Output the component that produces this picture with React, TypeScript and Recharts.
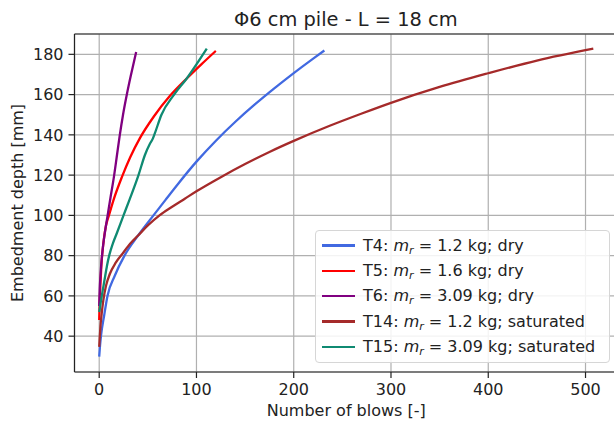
import { LineChart, Line, XAxis, YAxis, CartesianGrid, Legend, ReferenceLine } from 'recharts';

// blows / depth, one pair of arrays per test
const t4Blows = [0, 0.8, 1.8, 5, 8.5, 16, 26, 40, 55.8, 68, 80, 100, 120, 140, 160, 180, 200, 220, 231.5];
const t4Depth = [29.8, 35, 40, 50, 60, 70, 80, 90, 100, 107.6, 115, 126.7, 137.1, 146.5, 155.1, 163.1, 170.7, 177.9, 181.9];

const t5Blows = [0, 0.4, 1.2, 2.2, 3.4, 5, 7, 10, 14.7, 23.3, 32, 42, 56, 73, 90, 105, 119.9];
const t5Depth = [48, 55, 65, 75, 82, 89, 95, 100, 107.6, 119, 129, 138.5, 149, 159.5, 168, 175, 181.7];

const t6Blows = [0, 0.5, 1.3, 2.5, 4, 6, 8.5, 11.5, 15.4, 18, 20.9, 24.5, 28.4, 33, 38];
const t6Depth = [55, 63, 70, 78, 85, 92, 99.5, 108.5, 120, 129, 139, 150, 160, 170.5, 181.2];

const t14Blows = [0, 0.5, 1.3, 2.5, 4.3, 7, 11, 17, 24, 32, 40, 50, 62, 75, 88, 100, 125, 150, 175, 200, 237, 270, 300, 350, 400, 450, 508];
const t14Depth = [34.7, 39, 45, 51, 58, 65, 71, 76.5, 81, 86, 90, 95, 100, 104.3, 108.3, 112, 119, 125.5, 131.5, 137, 144.5, 150.6, 155.9, 163.8, 170.6, 176.9, 182.8];

const t15Blows = [0, 1, 3, 5.5, 8, 10.5, 14, 18, 25, 31, 40.4, 47, 52, 55, 57, 64, 77, 90, 100, 110.6];
const t15Depth = [52, 55, 61, 68, 75, 80.5, 86, 91, 100, 107.6, 120, 130, 135.5, 138, 140.5, 150, 160, 168, 175, 182.8];

const testIds = ['T4', 'T5', 'T6', 'T14', 'T15'];
const masses = ['1.2', '1.6', '3.09', '1.2', '3.09'];
const states = ['dry', 'dry', 'dry', 'saturated', 'saturated'];
const colors = ['#4169e1', '#ff0000', '#800080', '#a52a2a', '#0f8a72'];

const xTicks = [0, 100, 200, 300, 400, 500];
const yTicks = [40, 60, 80, 100, 120, 140, 160, 180];

const zip = (xs: number[], ys: number[]) => xs.map((x, i) => ({ x, y: ys[i] }));
const series = [
  zip(t4Blows, t4Depth),
  zip(t5Blows, t5Depth),
  zip(t6Blows, t6Depth),
  zip(t14Blows, t14Depth),
  zip(t15Blows, t15Depth),
];

const xDomain: [number, number] = [-25.4, 533.4];
const yDomain: [number, number] = [22.2, 190.1];

const font = '"DejaVu Sans", sans-serif';
const textColor = '#222';
const tickStyle = { fill: textColor, fontSize: 16, fontFamily: font };

function PileLegend() {
  return (
    <div
      style={{
        width: 295,
        height: 133,
        boxSizing: 'border-box',
        border: '1px solid #d6d6d6',
        borderRadius: 4,
        background: 'rgba(255,255,255,0.85)',
        paddingTop: 2,
        fontFamily: font,
        fontSize: 16,
        color: textColor,
      }}
    >
      {testIds.map((id, i) => (
        <div key={id} style={{ height: 25.3, display: 'flex', alignItems: 'center' }}>
          <span style={{ display: 'inline-block', marginLeft: 6, width: 33, height: 2.4, background: colors[i] }} />
          <span style={{ marginLeft: 8, whiteSpace: 'nowrap', lineHeight: '18px' }}>
            {id}: <i>m</i>
            <sub style={{ fontSize: 11, fontStyle: 'italic', verticalAlign: -3, lineHeight: 0 }}>r</sub> = {masses[i]} kg;{' '}
            {states[i]}
          </span>
        </div>
      ))}
    </div>
  );
}

export default function App() {
  return (
    <div style={{ position: 'absolute', left: 0, top: 0, width: 614, height: 424, overflow: 'hidden', background: '#fff' }}>
      <div
        style={{
          position: 'absolute',
          left: 145.8,
          top: 8,
          width: 400,
          textAlign: 'center',
          fontFamily: font,
          fontSize: 19.4,
          color: textColor,
          whiteSpace: 'nowrap',
          zIndex: 2,
        }}
      >
        Φ6 cm pile - L = 18 cm
      </div>
      <LineChart width={618} height={424} margin={{ top: 34, right: 0, left: 0, bottom: 0 }}>
        <CartesianGrid stroke="#b0b0b0" strokeWidth={1.2} />
        <XAxis
          type="number"
          dataKey="x"
          domain={xDomain}
          ticks={xTicks}
          allowDataOverflow
          height={52}
          tickSize={6}
          tickMargin={6}
          tick={tickStyle}
          stroke={textColor}
          strokeWidth={1.2}
          label={{
            value: 'Number of blows [-]',
            position: 'insideBottom',
            offset: 8,
            style: { fill: textColor, fontSize: 16, fontFamily: font },
          }}
        />
        <YAxis
          type="number"
          dataKey="y"
          domain={yDomain}
          ticks={yTicks}
          allowDataOverflow
          width={74.5}
          tickSize={6}
          tickMargin={5}
          tick={tickStyle}
          stroke={textColor}
          strokeWidth={1.2}
          label={{
            value: 'Embedment depth [mm]',
            angle: -90,
            position: 'center',
            dx: -19.6,
            style: { fill: textColor, fontSize: 16, fontFamily: font, textAnchor: 'middle' },
          }}
        />
        <ReferenceLine y={yDomain[1]} stroke={textColor} strokeWidth={1.2} />
        <ReferenceLine x={xDomain[1]} stroke={textColor} strokeWidth={1.2} />
        {series.map((data, i) => (
          <Line
            key={testIds[i]}
            data={data}
            dataKey="y"
            name={testIds[i]}
            type="monotone"
            stroke={colors[i]}
            strokeWidth={2.3}
            dot={false}
            activeDot={false}
            isAnimationActive={false}
          />
        ))}
        <Legend
          layout="vertical"
          align="center"
          verticalAlign="middle"
          content={() => <PileLegend />}
          wrapperStyle={{ position: 'absolute', left: 315, top: 230, width: 295, height: 133 }}
        />
      </LineChart>
    </div>
  );
}
